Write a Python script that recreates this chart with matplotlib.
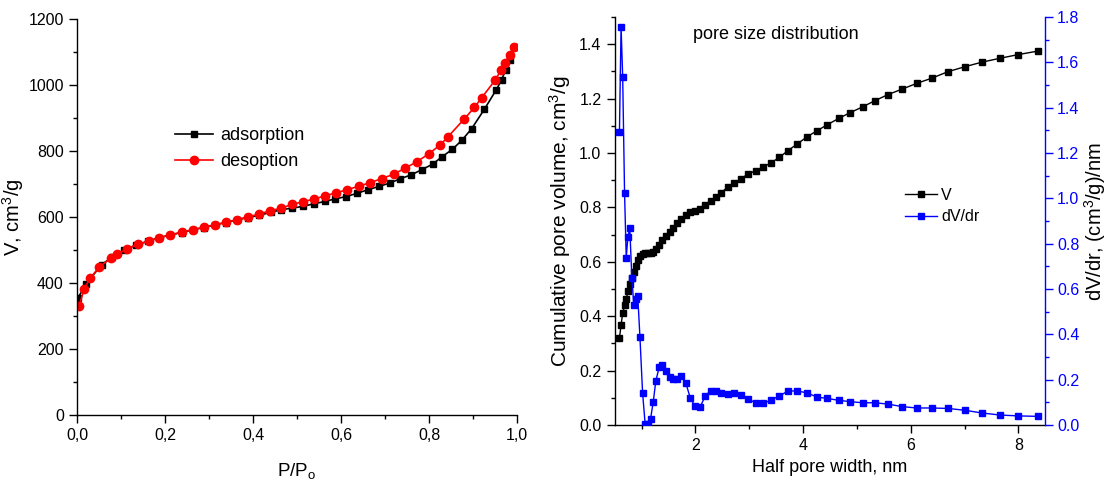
import numpy as np
import matplotlib
matplotlib.use("Agg")
import matplotlib.pyplot as plt
from matplotlib.ticker import MultipleLocator, FuncFormatter

plt.rcParams['font.family'] = ['Liberation Sans', 'DejaVu Sans']
plt.rcParams['mathtext.default'] = 'regular'

# ---- isotherm data (left) ----
p_ads = [0.003, 0.02, 0.056, 0.08, 0.107, 0.135, 0.162, 0.187, 0.211, 0.238, 0.263,
         0.288, 0.313, 0.338, 0.363, 0.388, 0.413, 0.44, 0.464, 0.489, 0.513, 0.538,
         0.563, 0.587, 0.612, 0.637, 0.662, 0.687, 0.711, 0.735, 0.76, 0.783, 0.808,
         0.83, 0.853, 0.875, 0.897, 0.926, 0.953, 0.965, 0.974, 0.983, 0.992]
v_ads = [356, 397, 455, 479, 500, 515, 527, 537, 545, 553, 561,
         568, 576, 583, 591, 598, 605, 614, 622, 627, 632, 640,
         647, 655, 662, 672, 683, 693, 703, 716, 728, 743, 760,
         783, 805, 833, 868, 927, 986, 1016, 1046, 1077, 1114]

p_des = [0.005, 0.016, 0.03, 0.05, 0.078, 0.092, 0.114, 0.138, 0.163, 0.187, 0.211,
         0.238, 0.263, 0.288, 0.313, 0.338, 0.363, 0.388, 0.414, 0.439, 0.464, 0.489,
         0.513, 0.538, 0.563, 0.589, 0.614, 0.64, 0.666, 0.692, 0.72, 0.746, 0.773,
         0.8, 0.825, 0.843, 0.88, 0.903, 0.92, 0.951, 0.963, 0.973, 0.983, 0.994]
v_des = [331, 381, 415, 447, 477, 487, 504, 517, 527, 537, 546,
         554, 562, 569, 576, 584, 592, 600, 609, 619, 627, 638,
         646, 654, 664, 673, 683, 693, 704, 716, 730, 748, 768,
         792, 818, 843, 897, 932, 962, 1016, 1044, 1068, 1092, 1116]

# ---- pore size distribution (right) ----
r_half = [0.59, 0.62, 0.65, 0.685, 0.716, 0.746, 0.782, 0.82, 0.857, 0.89, 0.93, 0.97,
          1.02, 1.068, 1.117, 1.167, 1.217, 1.265, 1.327, 1.389, 1.457, 1.525, 1.593,
          1.66, 1.74, 1.82, 1.907, 1.994, 2.087, 2.185, 2.284, 2.383, 2.476, 2.60,
          2.72, 2.85, 2.98, 3.12, 3.26, 3.40, 3.56, 3.72, 3.89, 4.07, 4.26, 4.45,
          4.66, 4.87, 5.11, 5.34, 5.58, 5.84, 6.11, 6.39, 6.69, 7.00, 7.32, 7.65,
          8.00, 8.37]
v_cum = [0.319, 0.368, 0.411, 0.440, 0.463, 0.491, 0.518, 0.540, 0.562, 0.585, 0.607, 0.621,
         0.629, 0.631, 0.631, 0.632, 0.637, 0.646, 0.663, 0.680, 0.696, 0.711, 0.725,
         0.741, 0.756, 0.771, 0.782, 0.788, 0.795, 0.809, 0.822, 0.839, 0.854, 0.874,
         0.890, 0.906, 0.923, 0.935, 0.949, 0.963, 0.984, 1.009, 1.033, 1.059, 1.082, 1.104,
         1.127, 1.148, 1.170, 1.193, 1.215, 1.235, 1.256, 1.275, 1.299, 1.317, 1.334, 1.348,
         1.362, 1.375]
dv_dr = [1.294, 1.757, 1.537, 1.022, 0.738, 0.828, 0.869, 0.650, 0.528, 0.556, 0.569, 0.390,
         0.140, 0.003, 0.003, 0.026, 0.101, 0.194, 0.254, 0.266, 0.237, 0.212, 0.201,
         0.204, 0.215, 0.187, 0.118, 0.082, 0.079, 0.129, 0.151, 0.151, 0.142, 0.135,
         0.141, 0.131, 0.116, 0.096, 0.095, 0.109, 0.128, 0.150, 0.150, 0.142, 0.123, 0.117,
         0.109, 0.103, 0.098, 0.098, 0.092, 0.081, 0.075, 0.075, 0.073, 0.065, 0.053, 0.044,
         0.040, 0.038]

fig = plt.figure(figsize=(11.06, 4.82), dpi=100)
ax1 = fig.add_axes([0.0696, 0.139, 0.3979, 0.8216])
ax2 = fig.add_axes([0.5557, 0.1183, 0.3895, 0.8464])
ax3 = ax2.twinx()

TICK = 11.5

def style(ax, spines=('left', 'bottom')):
    for s in ['top', 'right', 'left', 'bottom']:
        ax.spines[s].set_visible(s in spines)
        ax.spines[s].set_linewidth(1.0)
    ax.tick_params(which='major', direction='out', length=6, width=1, labelsize=TICK)
    ax.tick_params(which='minor', direction='out', length=3, width=1)

# left panel: isotherm
ax1.plot(p_ads, v_ads, '-s', color='black', ms=5, lw=1.2, label='adsorption')
ax1.plot(p_des, v_des, '-o', color='red', ms=6, lw=1.2, label='desoption')
ax1.set_xlim(0, 1.0)
ax1.set_ylim(0, 1200)
ax1.xaxis.set_major_locator(MultipleLocator(0.2))
ax1.xaxis.set_minor_locator(MultipleLocator(0.1))
ax1.yaxis.set_major_locator(MultipleLocator(200))
ax1.yaxis.set_minor_locator(MultipleLocator(100))
ax1.xaxis.set_major_formatter(FuncFormatter(lambda v, p: f"{v:.1f}".replace('.', ',')))
style(ax1)
ax1.set_xlabel('P/P$_o$', fontsize=13.5, labelpad=13)
ax1.set_ylabel('V, cm$^3$/g', fontsize=14.5, labelpad=2)
ax1.legend(loc='center left', bbox_to_anchor=(0.2227, 0.672), frameon=False,
           borderaxespad=0, borderpad=0, fontsize=13, handlelength=2.1,
           handletextpad=0.4, labelspacing=0.49)

# right panel: pore size distribution
l1, = ax2.plot(r_half, v_cum, '-s', color='black', ms=3.8, lw=1.0, label='V')
l2, = ax3.plot(r_half, dv_dr, '-s', color='#0000ff', ms=3.8, lw=1.0, label='dV/dr')
ax2.set_xlim(0.5, 8.5)
ax2.set_ylim(0, 1.5)
ax3.set_ylim(0, 1.8)
ax2.xaxis.set_major_locator(MultipleLocator(2))
ax2.xaxis.set_minor_locator(MultipleLocator(1))
ax2.yaxis.set_major_locator(MultipleLocator(0.2))
ax2.yaxis.set_minor_locator(MultipleLocator(0.1))
ax3.yaxis.set_major_locator(MultipleLocator(0.2))
ax3.yaxis.set_minor_locator(MultipleLocator(0.1))
ax2.yaxis.set_major_formatter(FuncFormatter(lambda v, p: f"{v:.1f}"))
ax3.yaxis.set_major_formatter(FuncFormatter(lambda v, p: f"{v:.1f}"))
style(ax2)
style(ax3, spines=('right',))
ax3.spines['right'].set_color('#0000ff')
ax3.tick_params(axis='y', which='both', colors='#0000ff', labelcolor='#0000ff', pad=2.5)
ax2.set_xlabel('Half pore width, nm', fontsize=13, labelpad=4)
ax2.set_ylabel('Cumulative pore volume, cm$^3$/g', fontsize=15, labelpad=4)
ax3.set_ylabel('dV/dr, (cm$^3$/g)/nm', fontsize=14.5, labelpad=2)
ax2.text(0.182, 0.958, 'pore size distribution', transform=ax2.transAxes,
         fontsize=13, va='center', ha='left')
ax3.legend([l1, l2], ['V', 'dV/dr'], loc='center left', bbox_to_anchor=(0.674, 0.537),
           frameon=False, borderaxespad=0, borderpad=0, fontsize=11.5,
           handlelength=2.0, handletextpad=0.25, labelspacing=0.42)

fig.savefig('out.png', dpi=100)
